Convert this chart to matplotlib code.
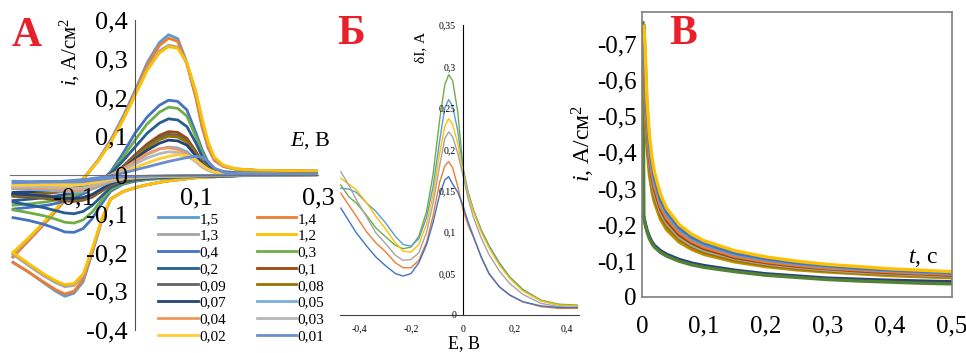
import matplotlib
matplotlib.use("Agg")
import matplotlib.pyplot as plt

plt.rcParams['font.family'] = ['Liberation Serif', 'DejaVu Serif']
plt.rcParams['mathtext.fontset'] = 'custom'
plt.rcParams['mathtext.rm'] = 'Liberation Serif'
plt.rcParams['mathtext.it'] = 'Liberation Serif:italic'

# ---------------- panel A: cyclic voltammograms ----------------
E_fwd = [-0.2, -0.17, -0.14, -0.11, -0.08, -0.06, -0.04, -0.02, 0.0, 0.02, 0.04, 0.055,
         0.07, 0.085, 0.1, 0.11, 0.12, 0.13, 0.145, 0.165, 0.2, 0.25, 0.3]
E_rev = [0.3, 0.2, 0.1, 0.05, 0.02, 0.0, -0.02, -0.04, -0.055, -0.07, -0.085, -0.1,
         -0.115, -0.13, -0.15, -0.175, -0.2]

scan_rates = ['1,5', '1,4', '1,3', '1,2', '0,4', '0,3', '0,2', '0,1',
              '0,09', '0,08', '0,07', '0,05', '0,04', '0,03', '0,02', '0,01']
cv_colors = ['#5B9BD5', '#ED7D31', '#A5A5A5', '#FFC000', '#4472C4', '#70AD47', '#255E91', '#9E480E',
             '#636363', '#997300', '#264478', '#7CAFDD', '#F1975A', '#B7B7B7', '#FFCD33', '#698ED0']

i_fwd = [
    [-0.21, -0.16, -0.11, -0.055, 0.0, 0.04, 0.09, 0.15, 0.218, 0.29, 0.342, 0.362, 0.352, 0.29, 0.2, 0.125, 0.07, 0.038, 0.022, 0.015, 0.012, 0.011, 0.01],
    [-0.212, -0.162, -0.112, -0.056, -0.002, 0.038, 0.087, 0.146, 0.213, 0.284, 0.334, 0.353, 0.345, 0.286, 0.198, 0.124, 0.07, 0.038, 0.022, 0.015, 0.012, 0.011, 0.01],
    [-0.205, -0.158, -0.108, -0.053, 0.0, 0.038, 0.085, 0.143, 0.208, 0.275, 0.32, 0.335, 0.33, 0.288, 0.21, 0.14, 0.08, 0.043, 0.024, 0.016, 0.012, 0.011, 0.01],
    [-0.2, -0.155, -0.106, -0.052, 0.0, 0.037, 0.083, 0.14, 0.205, 0.27, 0.315, 0.331, 0.327, 0.29, 0.215, 0.145, 0.085, 0.046, 0.025, 0.016, 0.012, 0.011, 0.01],
    [-0.088, -0.083, -0.077, -0.066, -0.045, -0.022, 0.008, 0.055, 0.108, 0.15, 0.18, 0.193, 0.19, 0.168, 0.108, 0.065, 0.032, 0.016, 0.009, 0.006, 0.005, 0.004, 0.004],
    [-0.078, -0.074, -0.068, -0.058, -0.04, -0.02, 0.005, 0.045, 0.09, 0.132, 0.162, 0.175, 0.172, 0.152, 0.098, 0.058, 0.028, 0.014, 0.008, 0.006, 0.005, 0.004, 0.004],
    [-0.066, -0.062, -0.057, -0.049, -0.034, -0.017, 0.004, 0.036, 0.072, 0.108, 0.134, 0.145, 0.142, 0.125, 0.082, 0.048, 0.023, 0.012, 0.007, 0.005, 0.004, 0.004, 0.003],
    [-0.052, -0.05, -0.047, -0.041, -0.03, -0.018, -0.002, 0.022, 0.052, 0.08, 0.102, 0.112, 0.11, 0.095, 0.06, 0.035, 0.018, 0.01, 0.006, 0.004, 0.003, 0.003, 0.003],
    [-0.05, -0.048, -0.045, -0.039, -0.029, -0.017, -0.002, 0.02, 0.049, 0.075, 0.096, 0.105, 0.103, 0.089, 0.056, 0.033, 0.017, 0.009, 0.005, 0.004, 0.003, 0.003, 0.003],
    [-0.048, -0.046, -0.043, -0.037, -0.028, -0.016, -0.002, 0.019, 0.046, 0.071, 0.091, 0.1, 0.098, 0.085, 0.054, 0.032, 0.016, 0.009, 0.005, 0.004, 0.003, 0.003, 0.003],
    [-0.045, -0.043, -0.04, -0.035, -0.026, -0.015, -0.002, 0.017, 0.042, 0.064, 0.082, 0.09, 0.088, 0.077, 0.049, 0.029, 0.015, 0.008, 0.005, 0.004, 0.003, 0.003, 0.003],
    [-0.035, -0.034, -0.032, -0.028, -0.02, -0.012, -0.001, 0.015, 0.034, 0.053, 0.067, 0.072, 0.07, 0.06, 0.04, 0.024, 0.013, 0.007, 0.004, 0.003, 0.003, 0.002, 0.002],
    [-0.032, -0.031, -0.029, -0.025, -0.018, -0.01, 0.0, 0.016, 0.036, 0.055, 0.068, 0.07, 0.066, 0.054, 0.035, 0.021, 0.012, 0.007, 0.004, 0.003, 0.003, 0.002, 0.002],
    [-0.03, -0.029, -0.027, -0.023, -0.017, -0.01, -0.001, 0.012, 0.028, 0.044, 0.055, 0.06, 0.058, 0.05, 0.034, 0.021, 0.012, 0.007, 0.004, 0.003, 0.002, 0.002, 0.002],
    [-0.027, -0.026, -0.024, -0.021, -0.016, -0.01, -0.003, 0.007, 0.019, 0.031, 0.042, 0.048, 0.052, 0.05, 0.038, 0.026, 0.015, 0.008, 0.004, 0.003, 0.002, 0.002, 0.002],
    [-0.02, -0.019, -0.018, -0.015, -0.011, -0.007, -0.002, 0.005, 0.013, 0.021, 0.029, 0.035, 0.04, 0.045, 0.048, 0.046, 0.035, 0.018, 0.007, 0.004, 0.003, 0.002, 0.002],
]
i_rev = [
    [0.006, 0.001, -0.007, -0.016, -0.025, -0.033, -0.043, -0.062, -0.12, -0.2, -0.275, -0.305, -0.313, -0.3, -0.278, -0.25, -0.225],
    [0.006, 0.001, -0.007, -0.016, -0.025, -0.033, -0.043, -0.062, -0.118, -0.197, -0.27, -0.3, -0.307, -0.296, -0.276, -0.25, -0.226],
    [0.006, 0.001, -0.007, -0.016, -0.025, -0.033, -0.043, -0.062, -0.117, -0.193, -0.262, -0.285, -0.288, -0.278, -0.26, -0.233, -0.205],
    [0.006, 0.001, -0.007, -0.016, -0.025, -0.033, -0.043, -0.062, -0.115, -0.19, -0.255, -0.28, -0.283, -0.273, -0.255, -0.228, -0.2],
    [0.002, -0.001, -0.004, -0.008, -0.012, -0.016, -0.024, -0.042, -0.075, -0.112, -0.138, -0.148, -0.147, -0.138, -0.127, -0.117, -0.11],
    [0.002, -0.001, -0.004, -0.007, -0.011, -0.015, -0.022, -0.038, -0.065, -0.095, -0.116, -0.124, -0.122, -0.114, -0.105, -0.097, -0.09],
    [0.002, -0.001, -0.003, -0.006, -0.009, -0.013, -0.019, -0.032, -0.055, -0.078, -0.094, -0.1, -0.098, -0.092, -0.084, -0.077, -0.07],
    [0.001, -0.001, -0.003, -0.005, -0.007, -0.01, -0.015, -0.026, -0.042, -0.057, -0.065, -0.068, -0.067, -0.064, -0.06, -0.057, -0.055],
    [0.001, -0.001, -0.003, -0.005, -0.007, -0.01, -0.014, -0.025, -0.04, -0.055, -0.063, -0.066, -0.065, -0.062, -0.058, -0.055, -0.053],
    [0.001, -0.001, -0.003, -0.005, -0.007, -0.009, -0.014, -0.024, -0.038, -0.053, -0.061, -0.064, -0.063, -0.06, -0.056, -0.053, -0.051],
    [0.001, -0.001, -0.003, -0.005, -0.007, -0.009, -0.013, -0.022, -0.036, -0.05, -0.058, -0.061, -0.06, -0.057, -0.054, -0.051, -0.049],
    [0.001, -0.001, -0.002, -0.004, -0.006, -0.008, -0.011, -0.018, -0.027, -0.036, -0.042, -0.044, -0.043, -0.041, -0.039, -0.037, -0.035],
    [0.001, -0.001, -0.002, -0.004, -0.005, -0.007, -0.01, -0.016, -0.024, -0.032, -0.038, -0.04, -0.039, -0.037, -0.035, -0.033, -0.032],
    [0.001, -0.001, -0.002, -0.003, -0.005, -0.006, -0.009, -0.014, -0.021, -0.028, -0.033, -0.035, -0.034, -0.033, -0.031, -0.03, -0.029],
    [0.0, -0.001, -0.002, -0.003, -0.004, -0.005, -0.007, -0.011, -0.016, -0.021, -0.025, -0.027, -0.027, -0.026, -0.025, -0.024, -0.023],
    [0.0, -0.001, -0.001, -0.002, -0.003, -0.004, -0.005, -0.008, -0.011, -0.014, -0.017, -0.018, -0.018, -0.018, -0.017, -0.017, -0.016],
]
a_xticks = [-0.1, 0.1, 0.3]
a_xlabels = ['-0,1', '0,1', '0,3']
a_yticks = [-0.4, -0.3, -0.2, -0.1, 0, 0.1, 0.2, 0.3, 0.4]
a_ylabels = ['-0,4', '-0,3', '-0,2', '-0,1', '0', '0,1', '0,2', '0,3', '0,4']

# ---------------- panel Б: differential pulse ----------------
E_dpv = [-0.47, -0.44, -0.41, -0.37, -0.335, -0.30, -0.26, -0.23, -0.20, -0.17, -0.14, -0.115, -0.09,
         -0.07, -0.055, -0.04, -0.02, 0.0, 0.02, 0.04, 0.07, 0.1, 0.14, 0.18, 0.23, 0.3, 0.37, 0.44]
dpv_colors = ['#70AD47', '#5B9BD5', '#FFC000', '#A5A5A5', '#ED7D31', '#4472C4']
dI = [
    [0.157, 0.143, 0.135, 0.12, 0.105, 0.095, 0.084, 0.08, 0.082, 0.095, 0.125, 0.17, 0.235, 0.278, 0.29, 0.283, 0.245, 0.178, 0.148, 0.127, 0.103, 0.084, 0.063, 0.046, 0.031, 0.018, 0.013, 0.012],
    [0.153, 0.152, 0.148, 0.135, 0.125, 0.112, 0.095, 0.085, 0.083, 0.092, 0.118, 0.155, 0.21, 0.25, 0.26, 0.252, 0.222, 0.175, 0.147, 0.126, 0.102, 0.083, 0.062, 0.045, 0.03, 0.017, 0.012, 0.011],
    [0.165, 0.158, 0.151, 0.135, 0.119, 0.105, 0.087, 0.077, 0.076, 0.085, 0.11, 0.145, 0.195, 0.228, 0.237, 0.23, 0.207, 0.172, 0.145, 0.125, 0.1, 0.081, 0.06, 0.044, 0.029, 0.017, 0.012, 0.011],
    [0.173, 0.157, 0.139, 0.118, 0.099, 0.087, 0.072, 0.066, 0.067, 0.075, 0.1, 0.135, 0.18, 0.213, 0.221, 0.215, 0.195, 0.168, 0.14, 0.118, 0.093, 0.073, 0.053, 0.038, 0.025, 0.014, 0.01, 0.009],
    [0.147, 0.133, 0.119, 0.1, 0.087, 0.077, 0.063, 0.057, 0.057, 0.066, 0.088, 0.12, 0.16, 0.18, 0.185, 0.178, 0.155, 0.127, 0.108, 0.094, 0.07, 0.05, 0.034, 0.024, 0.016, 0.01, 0.008, 0.008],
    [0.129, 0.114, 0.099, 0.083, 0.07, 0.06, 0.05, 0.047, 0.05, 0.063, 0.085, 0.112, 0.145, 0.163, 0.167, 0.158, 0.148, 0.132, 0.112, 0.095, 0.07, 0.05, 0.034, 0.024, 0.016, 0.011, 0.009, 0.009],
]
b_xticks = [-0.4, -0.2, 0, 0.2, 0.4]
b_xlabels = ['-0,4', '-0,2', '0', '0,2', '0,4']
b_yticks = [0, 0.05, 0.1, 0.15, 0.2, 0.25, 0.3, 0.35]
b_ylabels = ['0', '0,05', '0,1', '0,15', '0,2', '0,25', '0,3', '0,35']

# ---------------- panel В: chronoamperograms ----------------
t_up = [0.003, 0.005, 0.008, 0.012, 0.016, 0.02, 0.03, 0.04, 0.06, 0.08, 0.1, 0.15, 0.2, 0.25, 0.3, 0.35, 0.4, 0.45, 0.5]
up_colors = ['#BF9000', '#997300', '#A5A5A5', '#9E480E', '#ED7D31', '#5B9BD5', '#4472C4', '#FFC000']
i_up = [
    [-0.675, -0.523, -0.414, -0.338, -0.293, -0.262, -0.214, -0.185, -0.151, -0.131, -0.117, -0.096, -0.083, -0.074, -0.068, -0.063, -0.058, -0.055, -0.052],
    [-0.71, -0.551, -0.436, -0.356, -0.308, -0.276, -0.225, -0.195, -0.159, -0.138, -0.123, -0.101, -0.087, -0.078, -0.071, -0.066, -0.062, -0.058, -0.055],
    [-0.74, -0.573, -0.453, -0.370, -0.320, -0.286, -0.234, -0.203, -0.165, -0.143, -0.128, -0.105, -0.091, -0.081, -0.074, -0.068, -0.064, -0.060, -0.057],
    [-0.75, -0.594, -0.470, -0.383, -0.332, -0.297, -0.243, -0.210, -0.171, -0.149, -0.133, -0.108, -0.094, -0.084, -0.077, -0.071, -0.066, -0.063, -0.059],
    [-0.75, -0.615, -0.486, -0.397, -0.344, -0.308, -0.251, -0.218, -0.178, -0.154, -0.138, -0.112, -0.097, -0.087, -0.079, -0.074, -0.069, -0.065, -0.062],
    [-0.75, -0.643, -0.509, -0.415, -0.360, -0.322, -0.263, -0.228, -0.186, -0.161, -0.144, -0.117, -0.102, -0.091, -0.083, -0.077, -0.072, -0.068, -0.064],
    [-0.75, -0.665, -0.525, -0.429, -0.372, -0.332, -0.271, -0.235, -0.192, -0.166, -0.149, -0.121, -0.105, -0.094, -0.086, -0.079, -0.074, -0.070, -0.066],
    [-0.75, -0.693, -0.548, -0.447, -0.387, -0.346, -0.283, -0.245, -0.200, -0.173, -0.155, -0.127, -0.110, -0.098, -0.089, -0.083, -0.077, -0.073, -0.069],
]
t_low = [0.0015, 0.003, 0.005, 0.008, 0.012, 0.016, 0.02, 0.03, 0.04, 0.06, 0.08, 0.1, 0.15, 0.2, 0.25, 0.3, 0.35, 0.4, 0.45, 0.5]
low_colors = ['#264478', '#548235']
i_low = [
    [-0.23, -0.22, -0.205, -0.185, -0.166, -0.152, -0.142, -0.127, -0.117, -0.103, -0.093, -0.086, -0.073, -0.063, -0.057, -0.051, -0.048, -0.045, -0.043, -0.041],
    [-0.76, -0.225, -0.2, -0.18, -0.16, -0.147, -0.137, -0.122, -0.112, -0.098, -0.088, -0.081, -0.069, -0.059, -0.053, -0.047, -0.043, -0.04, -0.037, -0.035],
]
c_xticks = [0, 0.1, 0.2, 0.3, 0.4, 0.5]
c_xlabels = ['0', '0,1', '0,2', '0,3', '0,4', '0,5']
c_yticks = [0, -0.1, -0.2, -0.3, -0.4, -0.5, -0.6, -0.7]
c_ylabels = ['0', '-0,1', '-0,2', '-0,3', '-0,4', '-0,5', '-0,6', '-0,7']

W, H = 966, 353
fig = plt.figure(figsize=(W / 100, H / 100), dpi=100)


def box(l, t, r, b):
    return [l / W, 1 - b / H, (r - l) / W, (b - t) / H]


red = '#E8202A'

# ---- A ----
ax = fig.add_axes(box(10, 20, 318, 330))
lines = []
for k in range(len(scan_rates)):
    ln, = ax.plot(E_fwd + E_rev, i_fwd[k] + i_rev[k], color=cv_colors[k], lw=2.0,
                  solid_joinstyle='round', label=scan_rates[k])
    lines.append(ln)
ax.set_xlim(-0.205, 0.3)
ax.set_ylim(-0.4, 0.4)
ax.set_axisbelow(False)
for s in ['top', 'right']:
    ax.spines[s].set_visible(False)
ax.spines['left'].set_position(('data', 0))
ax.spines['bottom'].set_position(('data', 0))
ax.spines['left'].set_color('#505050')
ax.spines['bottom'].set_color('#707070')
ax.set_xticks(a_xticks, a_xlabels)
ax.set_yticks(a_yticks, a_ylabels)
ax.tick_params(axis='both', length=0, labelsize=19)
ax.tick_params(axis='y', pad=5)
ax.tick_params(axis='x', pad=9)
ax.patch.set_alpha(0)

order = list(range(0, 16, 2)) + list(range(1, 16, 2))
fig.legend([lines[j] for j in order], [scan_rates[j] for j in order], ncol=2,
           loc='upper left', bbox_to_anchor=(158 / W, 1 - 212 / H), frameon=False,
           fontsize=11, handlelength=2.6, handletextpad=0.1, columnspacing=2.0,
           labelspacing=0.2, borderpad=0, borderaxespad=0)

fig.text(70 / W, 1 - 52 / H, '$i$, А/см$^2$', rotation=90, ha='center', va='center', fontsize=15)
fig.text(310 / W, 1 - 141 / H, '$E$, В', ha='center', va='center', fontsize=16)
fig.text(27 / W, 1 - 36 / H, 'А', color=red, fontsize=30, fontweight='bold', ha='center', va='center')

# ---- Б ----
bx = fig.add_axes(box(339.5, 25, 578.7, 315))
for k in range(len(dI)):
    bx.plot(E_dpv, dI[k], color=dpv_colors[k], lw=1.0)
bx.set_xlim(-0.475, 0.445)
bx.set_ylim(0, 0.35)
bx.set_axisbelow(False)
for s in ['top', 'right']:
    bx.spines[s].set_visible(False)
bx.spines['left'].set_position(('data', 0))
bx.spines['left'].set_color('black')
bx.spines['bottom'].set_color('#404040')
bx.set_xticks(b_xticks, b_xlabels)
bx.set_yticks(b_yticks, b_ylabels)
bx.tick_params(axis='both', length=0, labelsize=7)
bx.tick_params(axis='y', pad=5)
bx.tick_params(axis='x', pad=7)
bx.patch.set_alpha(0)
fig.text(421 / W, 1 - 47 / H, 'δI, А', rotation=90, ha='center', va='center', fontsize=11)
fig.text(464 / W, 1 - 344 / H, 'E, В', ha='center', va='center', fontsize=13)
fig.text(351 / W, 1 - 34 / H, 'Б', color=red, fontsize=30, fontweight='bold', ha='center', va='center')

# ---- В ----
cx = fig.add_axes(box(642, 12, 951.5, 296.5))
for k in range(len(i_low)):
    cx.plot(t_low, i_low[k], color=low_colors[k], lw=2.4)
for k in range(len(i_up)):
    cx.plot(t_up, i_up[k], color=up_colors[k], lw=2.4)
cx.set_xlim(0, 0.5)
cx.set_ylim(0, -0.79)
for s in cx.spines.values():
    s.set_color('#7F7F7F')
    s.set_linewidth(1.2)
cx.set_xticks(c_xticks, c_xlabels)
cx.set_yticks(c_yticks, c_ylabels)
cx.tick_params(axis='both', length=0, labelsize=18)
cx.tick_params(axis='y', pad=4)
cx.tick_params(axis='x', pad=14)
fig.text(583 / W, 1 - 143 / H, '$i$, А/см$^2$', rotation=90, ha='center', va='center', fontsize=17)
fig.text(923 / W, 1 - 258 / H, '$t$, с', ha='center', va='center', fontsize=17)
fig.text(683 / W, 1 - 34 / H, 'В', color=red, fontsize=30, fontweight='bold', ha='center', va='center')

fig.savefig('out.png', dpi=100)
